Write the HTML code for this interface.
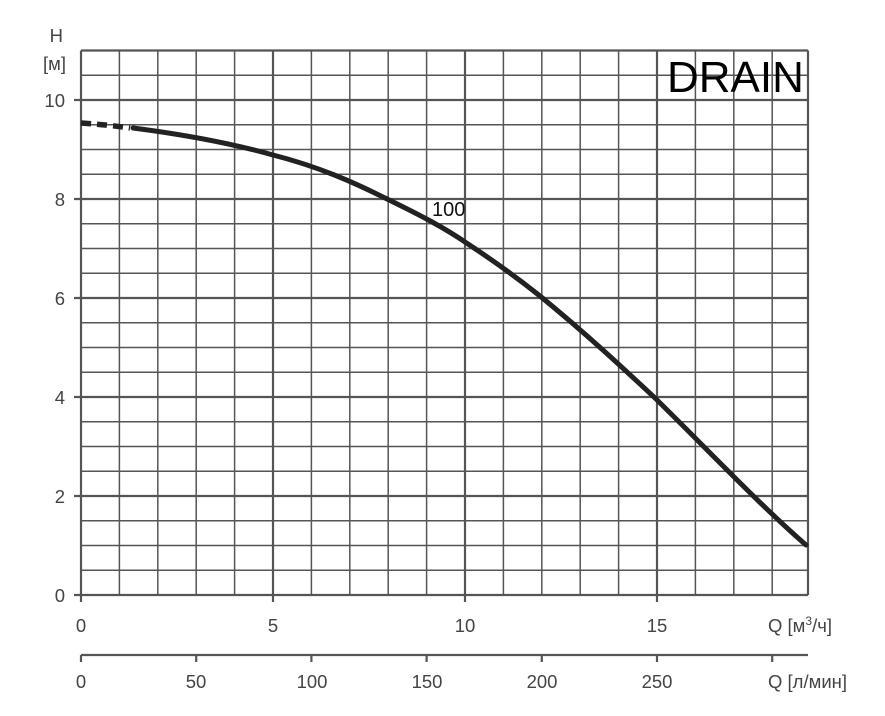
<!DOCTYPE html>
<html><head><meta charset="utf-8"><style>body{margin:0;background:#fff}svg{display:block}</style></head>
<body>
<svg width="885" height="716" xmlns="http://www.w3.org/2000/svg" font-family="Liberation Sans, sans-serif">
<g stroke="#555" stroke-width="1.5">
<line x1="81" y1="50.5" x2="81" y2="595"/>
<line x1="119.4" y1="50.5" x2="119.4" y2="595"/>
<line x1="157.8" y1="50.5" x2="157.8" y2="595"/>
<line x1="196.2" y1="50.5" x2="196.2" y2="595"/>
<line x1="234.6" y1="50.5" x2="234.6" y2="595"/>
<line x1="311.4" y1="50.5" x2="311.4" y2="595"/>
<line x1="349.8" y1="50.5" x2="349.8" y2="595"/>
<line x1="388.2" y1="50.5" x2="388.2" y2="595"/>
<line x1="426.6" y1="50.5" x2="426.6" y2="595"/>
<line x1="503.4" y1="50.5" x2="503.4" y2="595"/>
<line x1="541.8" y1="50.5" x2="541.8" y2="595"/>
<line x1="580.2" y1="50.5" x2="580.2" y2="595"/>
<line x1="618.6" y1="50.5" x2="618.6" y2="595"/>
<line x1="695.4" y1="50.5" x2="695.4" y2="595"/>
<line x1="733.8" y1="50.5" x2="733.8" y2="595"/>
<line x1="772.2" y1="50.5" x2="772.2" y2="595"/>
</g>
<g stroke="#555" stroke-width="2.2">
<line x1="273" y1="50.5" x2="273" y2="602"/>
<line x1="465" y1="50.5" x2="465" y2="602"/>
<line x1="657" y1="50.5" x2="657" y2="602"/>
<line x1="808" y1="50.5" x2="808" y2="595"/>
<line x1="81" y1="50.5" x2="808" y2="50.5"/>
</g>
<g stroke="#555" stroke-width="1.5">
<line x1="81" y1="75.25" x2="808" y2="75.25"/>
<line x1="81" y1="124.75" x2="808" y2="124.75"/>
<line x1="81" y1="149.5" x2="808" y2="149.5"/>
<line x1="81" y1="174.25" x2="808" y2="174.25"/>
<line x1="81" y1="223.75" x2="808" y2="223.75"/>
<line x1="81" y1="248.5" x2="808" y2="248.5"/>
<line x1="81" y1="273.25" x2="808" y2="273.25"/>
<line x1="81" y1="322.75" x2="808" y2="322.75"/>
<line x1="81" y1="347.5" x2="808" y2="347.5"/>
<line x1="81" y1="372.25" x2="808" y2="372.25"/>
<line x1="81" y1="421.75" x2="808" y2="421.75"/>
<line x1="81" y1="446.5" x2="808" y2="446.5"/>
<line x1="81" y1="471.25" x2="808" y2="471.25"/>
<line x1="81" y1="520.75" x2="808" y2="520.75"/>
<line x1="81" y1="545.5" x2="808" y2="545.5"/>
<line x1="81" y1="570.25" x2="808" y2="570.25"/>
</g>
<g stroke="#555" stroke-width="2.2">
<line x1="74" y1="100" x2="808" y2="100"/>
<line x1="74" y1="199" x2="808" y2="199"/>
<line x1="74" y1="298" x2="808" y2="298"/>
<line x1="74" y1="397" x2="808" y2="397"/>
<line x1="74" y1="496" x2="808" y2="496"/>
<line x1="74" y1="595" x2="808" y2="595"/>
<line x1="81" y1="50.5" x2="81" y2="602"/>
<line x1="81" y1="655" x2="808" y2="655"/>
<line x1="81" y1="655" x2="81" y2="662"/>
<line x1="196.2" y1="655" x2="196.2" y2="662"/>
<line x1="311.4" y1="655" x2="311.4" y2="662"/>
<line x1="426.6" y1="655" x2="426.6" y2="662"/>
<line x1="541.8" y1="655" x2="541.8" y2="662"/>
<line x1="657" y1="655" x2="657" y2="662"/>
<line x1="772.2" y1="655" x2="772.2" y2="662"/>
</g>
<path d="M81,123 Q110,125 130,128" fill="none" stroke="#222" stroke-width="5.5" stroke-dasharray="10,6"/>
<path d="M133,128 C180,134 230,143 273,155 C320,167 355,183 385,198 C420,215 445,228 468,244 C500,265 520,280 540,296 C590,337 625,370 655,398 C710,452 760,505 806,545" fill="none" stroke="#222" stroke-width="5" stroke-linecap="round"/>
<text x="432" y="216" font-size="20" fill="#111">100</text>
<text x="667" y="92" font-size="44" fill="#000">DRAIN</text>
<g font-size="18.5" fill="#444" text-anchor="end">
<text x="65" y="107">10</text><text x="65" y="206">8</text><text x="65" y="305">6</text>
<text x="65" y="404">4</text><text x="65" y="503">2</text><text x="65" y="602">0</text>
<text x="63" y="42">H</text><text x="66" y="70">[м]</text>
</g>
<g font-size="18.5" fill="#444" text-anchor="middle">
<text x="81" y="632">0</text><text x="273" y="632">5</text><text x="465" y="632">10</text><text x="657" y="632">15</text>
<text x="81" y="688">0</text><text x="196" y="688">50</text><text x="312" y="688">100</text><text x="427" y="688">150</text>
<text x="542" y="688">200</text><text x="657" y="688">250</text>
</g>
<text x="768" y="632" font-size="18.5" fill="#444">Q [м<tspan font-size="12" dy="-7">3</tspan><tspan dy="7">/ч]</tspan></text>
<text x="768" y="688" font-size="18.5" fill="#444">Q [л/мин]</text>
</svg>
</body></html>
